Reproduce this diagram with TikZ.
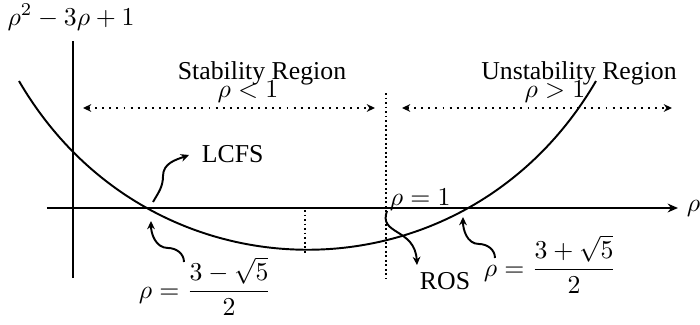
\documentclass[tikz,border=0pt]{standalone}
\usepackage[no-math]{fontspec}
\setmainfont{Liberation Serif}
\usepackage{amsmath}
\usetikzlibrary{arrows.meta}
\begin{document}
\begin{tikzpicture}[x=0.388pt,y=-0.388pt,
  line width=0.75pt,
  lbl/.style={inner sep=0pt, font=\fontsize{10}{12}\selectfont},
  axisline/.style={line width=0.8pt},
  vdots/.style={dash pattern=on 0.75pt off 1pt},
  hdots/.style={dash pattern=on 0.75pt off 2pt, {Stealth[length=3.2pt,width=3pt]}-{Stealth[length=3.2pt,width=3pt]}},
  snakearrow/.style={-{Stealth[length=3.2pt,width=3pt]}}
]
\useasboundingbox (0,0) rectangle (700,325);

% axes
\coordinate (xs) at (47,208);
\coordinate (xe) at (678,208);
\coordinate (ys) at (73,278);
\coordinate (ye) at (73,41);
\draw[axisline,-{Stealth[length=4pt,width=3.4pt]}] (xs) -- (xe);
\draw[axisline] (ys) -- (ye);
\node[lbl, anchor=base west] (xl) at (686,211) {$\rho$};
\node[lbl, anchor=base] (yl) at (71,25) {$\rho^2-3\rho+1$};

% curve
\coordinate (c0) at (19,81);
\coordinate (c3) at (596,81);
\draw (c0) .. controls (150,306) and (465,306) .. (c3);

% dotted lines
\coordinate (d1t) at (386,93);
\coordinate (d1b) at (386,278);
\coordinate (d2t) at (305,210);
\coordinate (d2b) at (305,255);
\draw[vdots] (d1t) -- (d1b);
\draw[vdots] (d2t) -- (d2b);

% region arrows
\coordinate (a1l) at (83,108);
\coordinate (a1r) at (375,108);
\coordinate (a2l) at (402,108);
\coordinate (a2r) at (672,108);
\draw[hdots] (a1l) -- (a1r);
\draw[hdots] (a2l) -- (a2r);

% region labels
\node[lbl, anchor=base] (sr) at (262,79) {Stability Region};
\node[lbl, anchor=base] (sl) at (248,97) {$\rho<1$};
\node[lbl, anchor=base] (ur) at (579,79) {Unstability Region};
\node[lbl, anchor=base] (ul) at (555,97) {$\rho>1$};

% rho = 1
\node[lbl, anchor=base west] (r1) at (389,205) {$\rho=1$};

% LCFS
\node[lbl, anchor=base west] (lcfs) at (201,162) {LCFS};
\coordinate (ls) at (153,202);
\coordinate (lm) at (163,176);
\coordinate (le) at (189,155);
\draw[snakearrow] (ls) to[out=60,in=-90] (lm) to[out=90,in=200] (le);

% lower root
\node[lbl, anchor=base west] (rootl) at (138,298) {$\rho=\dfrac{3-\sqrt{5}}{2}$};
\coordinate (rls) at (184,262);
\coordinate (rlm) at (168,248);
\coordinate (rle) at (151,221);
\draw[snakearrow] (rls) to[out=90,in=0] (rlm) to[out=180,in=-90] (rle);

% upper root
\node[lbl, anchor=base west] (rootu) at (483,276) {$\rho=\dfrac{3+\sqrt{5}}{2}$};
\coordinate (rus) at (495,258);
\coordinate (rum) at (479,244);
\coordinate (rue) at (463,217);
\draw[snakearrow] (rus) to[out=90,in=0] (rum) to[out=180,in=-90] (rue);

% ROS
\node[lbl, anchor=base west] (ros) at (419,289) {ROS};
\coordinate (os) at (387,211);
\coordinate (oe) at (417,265);
\draw[snakearrow] (os) .. controls (378,235) and (415,228) .. (oe);
\end{tikzpicture}
\end{document}
